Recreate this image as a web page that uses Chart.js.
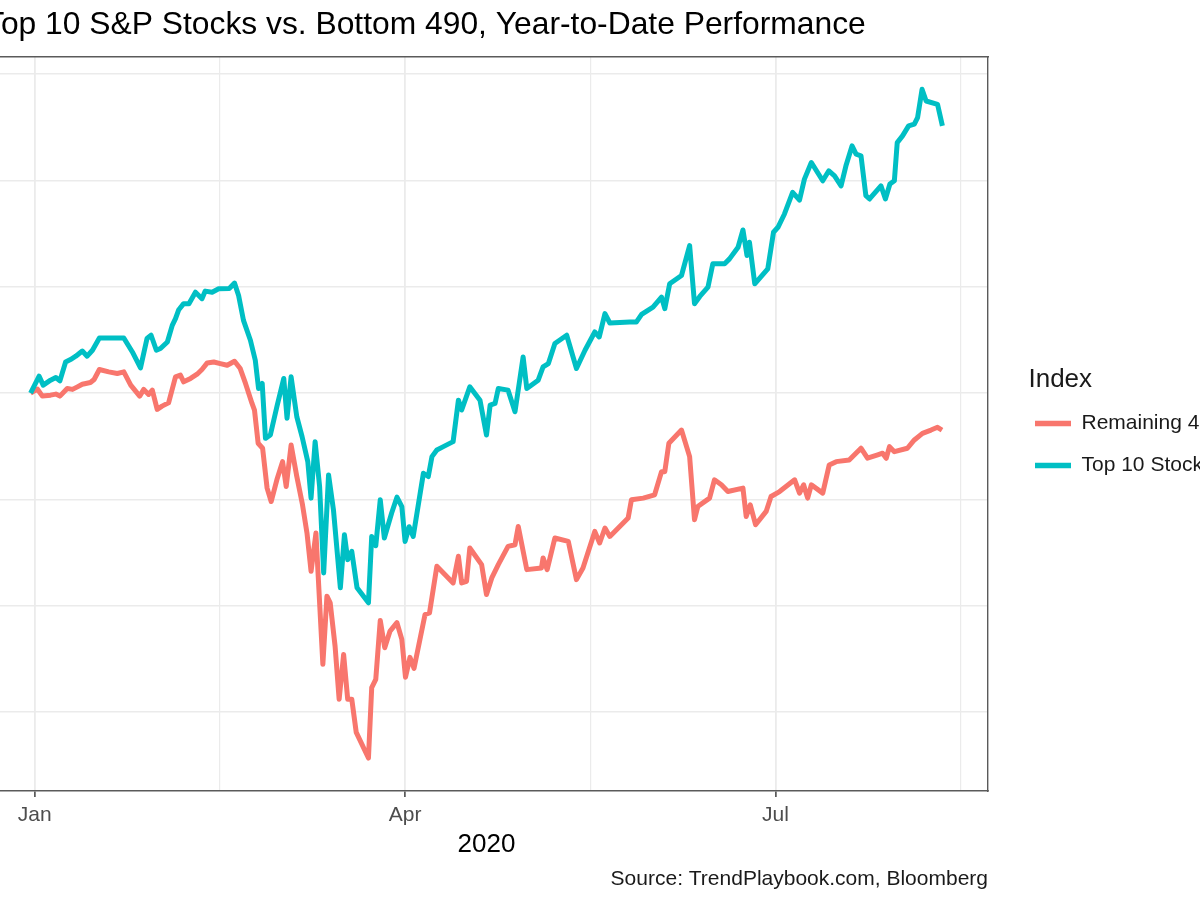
<!DOCTYPE html>
<html>
<head>
<meta charset="utf-8">
<script src="https://cdn.jsdelivr.net/npm/chart.js@4"></script>
<style>
  html, body { margin: 0; padding: 0; background: #ffffff; overflow: hidden; width: 1200px; height: 900px; }
  #wrap { position: absolute; left: -100px; top: 0; width: 1300px; height: 900px; }
</style>
</head>
<body>
<div id="wrap"><canvas id="c"></canvas></div>
<script>
// ---- Data (x = days since Jan 1 2020, y = % change YTD) ----
const topDays = [
  -1, 1.1, 2.1, 3.9, 5.2, 6.2, 7.6, 8.8, 10.1, 11.7,
  12.9, 14.2, 15.9, 21.9, 24.0, 26.0, 27.6, 28.6, 29.9, 30.9,
  32.6, 33.8, 34.6, 35.4, 36.6, 37.9, 39.5, 41.1, 41.9, 43.6,
  45.2, 47.8, 49.1, 50.1, 51.3, 53.0, 54.2, 55.0, 55.9, 56.7,
  57.9, 59.5, 61.2, 62.0, 63.0, 64.4, 65.7, 67.1, 67.9, 68.9,
  70.0, 71.0, 72.2, 73.4, 75.1, 76.1, 76.9, 77.9, 79.2, 82.0,
  82.8, 83.8, 84.9, 85.9, 87.7, 89.0, 90.2, 91.0, 92.0, 93.0,
  95.5, 96.7, 97.6, 98.8, 100.4, 102.8, 104.1, 104.9, 106.9, 109.4,
  111.0, 111.9, 113.1, 113.9, 116.3, 118.0, 120.0, 120.9, 123.7, 124.9,
  126.2, 127.8, 130.7, 133.1, 135.2, 137.6, 138.7, 140.1, 141.3, 146.2,
  147.8, 149.1, 151.9, 154.0, 154.8, 156.0, 158.9, 160.9, 162.1, 163.4,
  165.4, 166.6, 169.5, 170.7, 172.8, 174.0, 175.0, 175.6, 176.9, 180.1,
  181.5, 182.6, 184.2, 186.2, 187.9, 189.1, 190.8, 193.6, 195.1, 196.5,
  198.1, 199.3, 200.8, 201.8, 203.0, 204.2, 205.1, 207.9, 209.0, 210.1,
  211.2, 211.9, 213.2, 214.7, 216.1, 216.9, 218.0, 219.0, 221.8, 223.0
];
const topVals = [
  0, 1.59, 0.75, 1.22, 1.47, 1.15, 2.93, 3.16, 3.47, 3.96,
  3.47, 4.03, 5.18, 5.18, 3.87, 2.37, 5.13, 5.44, 4.03, 4.19,
  4.81, 6.37, 7.00, 7.84, 8.41, 8.41, 9.49, 8.88, 9.59, 9.49,
  9.81, 9.84, 10.34, 9.18, 6.84, 4.97, 3.09, 0.44, 0.91, -4.25,
  -3.94, -1.28, 1.38, -2.37, 1.53, -2.22, -4.10, -6.44, -9.87, -4.56,
  -8.78, -16.90, -7.69, -10.97, -18.30, -13.31, -15.65, -14.87, -18.30, -19.71,
  -13.47, -14.34, -10.03, -13.62, -11.27, -9.78, -10.66, -13.94, -12.56, -13.47,
  -7.53, -7.84, -5.97, -5.34, -5.03, -4.56, -0.66, -1.59, 0.59, -0.66,
  -3.94, -1.12, -0.97, 0.44, 0.28, -1.75, 3.40, 0.44, 1.22, 2.46,
  2.78, 4.66, 5.44, 2.31, 4.03, 5.75, 5.28, 7.47, 6.59, 6.68,
  6.68, 7.40, 8.09, 9.03, 7.94, 10.28, 11.06, 13.87, 8.41, 9.09,
  9.96, 12.16, 12.16, 12.62, 13.71, 15.34, 12.93, 14.18, 10.28, 11.69,
  15.12, 15.59, 16.84, 18.87, 18.15, 20.12, 21.68, 19.96, 20.90, 20.43,
  19.49, 21.37, 23.24, 22.46, 22.31, 18.56, 18.25, 19.49, 18.25, 19.65,
  19.96, 23.55, 24.18, 25.12, 25.28, 25.90, 28.56, 27.46, 27.15, 25.12
];
const restDays = [
  -1, 0.7, 1.9, 3.9, 5.2, 6.2, 8.0, 9.3, 10.5, 11.7,
  13.7, 14.6, 15.9, 18.2, 20.3, 21.9, 23.6, 25.8, 26.8, 28.0,
  28.9, 30.1, 31.3, 32.9, 34.6, 35.8, 36.6, 38.3, 39.9, 41.1,
  42.4, 44.0, 45.6, 47.3, 49.1, 50.5, 51.8, 53.4, 54.0, 54.9,
  56.0, 57.1, 58.1, 59.5, 60.9, 61.8, 63.0, 64.4, 65.8, 66.9,
  67.9, 69.1, 70.8, 71.8, 72.6, 73.8, 74.8, 75.9, 76.9, 77.9,
  79.0, 82.0, 82.8, 83.8, 84.9, 86.0, 87.3, 89.0, 90.2, 91.1,
  92.2, 93.2, 95.9, 97.0, 98.8, 102.8, 104.1, 104.9, 106.1, 106.9,
  109.8, 111.0, 112.3, 113.9, 116.3, 118.0, 118.8, 120.9, 124.5, 124.9,
  125.9, 127.8, 131.1, 133.1, 134.7, 137.6, 138.8, 140.1, 141.3, 145.8,
  146.6, 149.5, 152.3, 154.0, 154.8, 155.8, 158.9, 160.9, 162.1, 162.9,
  165.8, 167.0, 168.7, 170.3, 174.0, 174.8, 175.8, 177.1, 179.7, 180.9,
  183.0, 186.7, 187.9, 188.9, 189.9, 190.8, 193.6, 195.2, 196.9, 200.1,
  203.0, 204.6, 207.1, 208.3, 209.2, 210.0, 211.2, 214.4, 216.1, 218.1,
  220.2, 221.8, 222.9
];
const restVals = [
  0, 0.37, -0.28, -0.19, -0.09, -0.28, 0.44, 0.35, 0.59, 0.84,
  1.00, 1.28, 2.22, 2.00, 1.85, 2.00, 0.75, -0.28, 0.35, -0.12,
  0.28, -1.53, -1.22, -0.91, 1.53, 1.69, 1.06, 1.38, 1.78, 2.22,
  2.84, 2.93, 2.78, 2.62, 3.00, 2.31, 0.91, -0.97, -1.59, -4.71,
  -5.18, -8.93, -10.19, -8.15, -6.44, -8.78, -4.87, -7.84, -10.50, -13.15,
  -16.75, -13.15, -25.49, -19.09, -19.71, -23.78, -28.77, -24.56, -28.77, -28.77,
  -31.89, -34.30, -27.68, -26.90, -21.37, -23.93, -22.37, -21.58, -23.15, -26.71,
  -24.84, -25.87, -20.81, -20.65, -16.28, -17.84, -15.34, -17.84, -17.69, -14.56,
  -16.12, -18.93, -17.37, -16.12, -14.41, -14.25, -12.53, -16.59, -16.43, -15.49,
  -16.59, -13.62, -13.94, -17.53, -16.43, -13.00, -14.09, -12.68, -13.47, -11.74,
  -10.03, -9.87, -9.56, -7.38, -7.38, -4.71, -3.47, -5.97, -11.90, -10.66,
  -9.87, -8.15, -8.62, -9.25, -8.93, -11.59, -10.50, -12.37, -11.12, -9.72,
  -9.25, -8.15, -9.40, -8.62, -9.87, -8.62, -9.40, -6.75, -6.44, -6.28,
  -5.18, -6.12, -5.81, -5.65, -6.12, -5.03, -5.50, -5.18, -4.40, -3.78,
  -3.47, -3.21, -3.47
];
const seriesNames = ['Remaining 490', 'Top 10 Stocks'];
const seriesColors = ['#F8766D', '#00BFC4'];
// x-axis breaks (days since Jan 1): major at Jan/Apr/Jul, minor midway
const xTickDays = [0, 45.5, 91, 136.5, 182, 227.5];
const xTickLabels = ['Jan', '', 'Apr', '', 'Jul', ''];
const yTickVals = [-30, -20, -10, 0, 10, 20, 30];

const FONT = "'Liberation Sans', Arial, Helvetica, sans-serif";
const majorX = new Set([0, 91, 182]);
const toPts = (xs, ys) => xs.map((d, i) => ({ x: d, y: ys[i] }));
const BORDER = '#5a5a5a';

new Chart(document.getElementById('c'), {
  type: 'line',
  data: {
    datasets: [
      { label: seriesNames[0], data: toPts(restDays, restVals), borderColor: seriesColors[0], backgroundColor: seriesColors[0],
        borderWidth: 5, pointRadius: 0, tension: 0, borderJoinStyle: 'round', fill: false, order: 2 },
      { label: seriesNames[1], data: toPts(topDays, topVals), borderColor: seriesColors[1], backgroundColor: seriesColors[1],
        borderWidth: 5, pointRadius: 0, tension: 0, borderJoinStyle: 'round', fill: false, order: 1 }
    ]
  },
  options: {
    responsive: true,
    maintainAspectRatio: false,
    animation: false,
    devicePixelRatio: 1,
    events: [],
    layout: { padding: { left: 0, right: 0, top: 0, bottom: 0 } },
    plugins: {
      title: {
        display: true, text: 'Top 10 S&P Stocks vs. Bottom 490, Year-to-Date Performance',
        align: 'start', fullSize: false, color: '#000000',
        font: { family: FONT, size: 31.8, weight: 'normal', lineHeight: 1.2 },
        padding: { top: 6.2, bottom: 12.6 }
      },
      subtitle: {
        display: true, position: 'bottom', text: 'Source: TrendPlaybook.com, Bloomberg',
        align: 'end', fullSize: false, color: '#1a1a1a',
        font: { family: FONT, size: 21, weight: 'normal', lineHeight: 1.2 },
        padding: { top: 5.4, bottom: 8.4 }
      },
      legend: {
        display: true, position: 'right', align: 'center', fullSize: false, maxWidth: 186,
        title: { display: true, text: '  Index', position: 'start', color: '#1a1a1a',
          font: { family: FONT, size: 26, lineHeight: 1.2 }, padding: { top: 16, bottom: -6.2 } },
        labels: {
          boxWidth: 36, boxHeight: 5.5, padding: 21, color: '#1a1a1a',
          font: { family: FONT, size: 21 },
          sort: (a, b) => a.datasetIndex - b.datasetIndex,
          generateLabels: (chart) => Chart.defaults.plugins.legend.labels.generateLabels(chart)
            .map(l => Object.assign({}, l, { lineWidth: 0 }))
        }
      },
      tooltip: { enabled: false }
    },
    scales: {
      x: {
        type: 'linear', position: 'bottom', min: -12.2, max: 234.2,
        afterBuildTicks: (s) => { s.ticks = xTickDays.map(v => ({ value: v })); },
        afterFit: (s) => { s.height = 70; },
        ticks: { autoSkip: false, maxRotation: 0, padding: 6, color: '#4D4D4D',
          font: { family: FONT, size: 21 },
          callback: (v, i) => xTickLabels[i] },
        grid: { color: '#EBEBEB', lineWidth: (c) => (c.tick && majorX.has(c.tick.value)) ? 1.8 : 1.2,
          drawTicks: true, tickLength: 6, tickWidth: 1.4,
          tickColor: (c) => (c.tick && majorX.has(c.tick.value)) ? '#333333' : 'rgba(0,0,0,0)' },
        border: { display: true, color: BORDER, width: 1.4 },
        title: { display: true, text: '2020', color: '#000000',
          font: { family: FONT, size: 26, lineHeight: 1.2 }, padding: { top: 0, bottom: 0.4 } }
      },
      y: {
        type: 'linear', position: 'left', min: -37.4, max: 31.6,
        afterBuildTicks: (s) => { s.ticks = yTickVals.map(v => ({ value: v })); },
        afterFit: (s) => { s.width = 85; },
        ticks: { color: '#4D4D4D', font: { family: FONT, size: 21 }, callback: (v) => v + '%' },
        grid: { color: '#EBEBEB', lineWidth: 1.6, tickLength: 6, tickColor: '#333333' },
        border: { display: true, color: BORDER, width: 1.4 }
      },
      y2: {
        type: 'linear', position: 'right', min: -37.4, max: 31.6,
        afterFit: (s) => { s.width = 26; },
        ticks: { display: false }, grid: { display: false, drawTicks: false },
        border: { display: true, color: BORDER, width: 1.4 }
      },
      x2: {
        type: 'linear', position: 'top', min: -12.2, max: 234.2,
        afterFit: (s) => { s.height = 0; },
        ticks: { display: false }, grid: { display: false, drawTicks: false },
        border: { display: true, color: BORDER, width: 1.4 }
      }
    }
  }
});
</script>
</body>
</html>
